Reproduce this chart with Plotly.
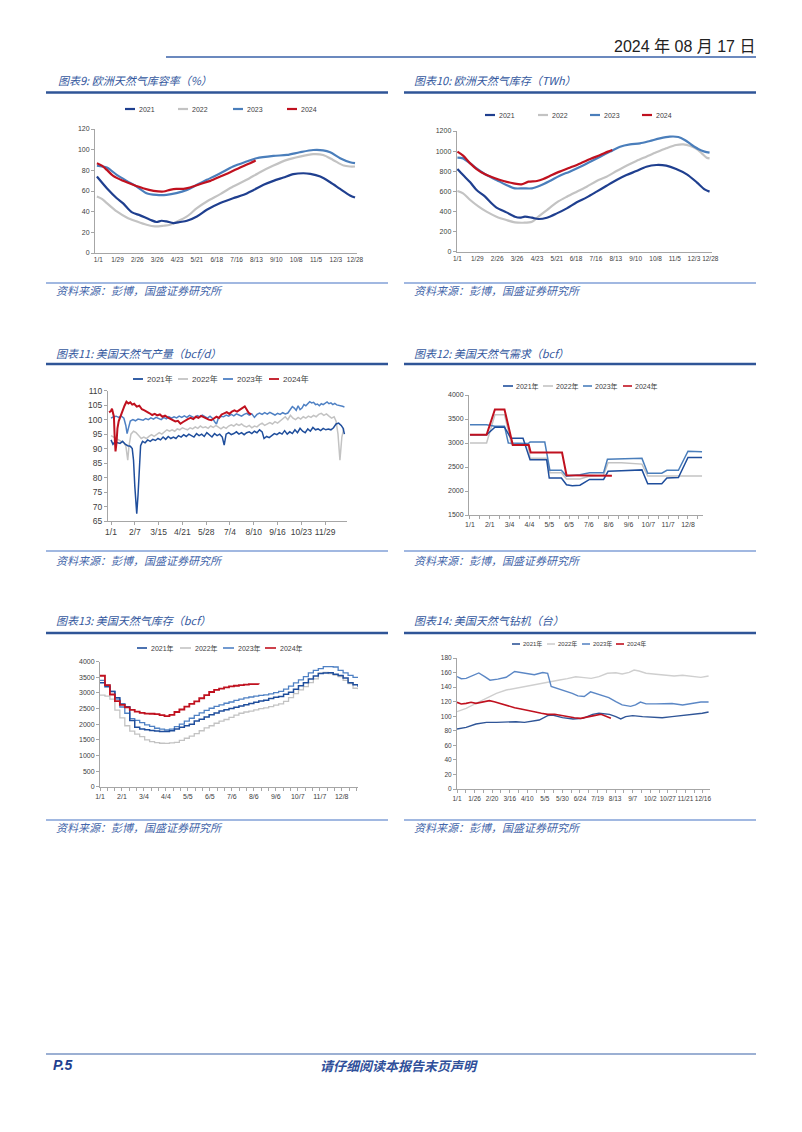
import plotly.graph_objects as go

W, H = 802, 1132

# ---------------- DATA ----------------
# Chart 9: EU gas storage fill (%), x = day of year
eu_pct_21_d = [-2, 12, 26, 35, 47, 59, 73, 82, 89, 96, 106, 115, 125, 139, 153, 172, 190, 205, 219, 233, 247, 261, 275, 289, 299, 313, 327, 341, 355, 362]
eu_pct_21_v = [74, 62.7, 53, 48, 39.6, 36.4, 32.2, 30, 31.2, 30.6, 29, 30, 31.2, 35.4, 41.8, 48.3, 53, 56.3, 61, 66, 69.8, 73, 76.3, 77.2, 76.6, 74, 68.5, 62, 55.7, 53.7]
eu_pct_22_d = [-2, 5, 12, 26, 40, 54, 68, 80, 92, 101, 110, 125, 139, 153, 172, 190, 209, 228, 247, 266, 284, 303, 317, 331, 346, 355, 362]
eu_pct_22_v = [54.7, 52.4, 48.3, 40.2, 34.4, 30.6, 27.3, 25.7, 26.4, 27.3, 30, 35.4, 43.4, 49.9, 57, 64.4, 70.8, 78.2, 84.6, 90.1, 93.3, 95.6, 94.9, 90.1, 84.6, 83.7, 83.7]
eu_pct_23_d = [-2, 12, 26, 40, 54, 68, 82, 96, 110, 125, 139, 153, 172, 190, 209, 223, 247, 266, 284, 303, 317, 327, 341, 355, 362]
eu_pct_23_v = [84.6, 82.7, 75.6, 69.8, 64.4, 57.9, 56.3, 56.3, 57.9, 61.1, 66, 70.8, 77.2, 83.7, 88.5, 91.7, 94, 94.9, 97.5, 99.7, 99.4, 97.5, 91.7, 87.8, 86.9]
eu_pct_24_d = [-2, 5, 12, 21, 35, 49, 63, 78, 92, 101, 110, 120, 129, 143, 158, 172, 186, 200, 214, 222]
eu_pct_24_v = [86.9, 84.6, 80.4, 74.6, 69.8, 66, 62.7, 60.2, 59.5, 61.1, 62.1, 62.1, 63.4, 66.6, 69.8, 74, 78.2, 82.7, 86.9, 89.4]

# Chart 10: EU gas storage (TWh)
eu_twh_21_d = [0, 8, 18, 27, 39, 48, 55, 69, 81, 88, 95, 105, 114, 126, 140, 154, 168, 182, 196, 210, 224, 238, 252, 266, 280, 294, 308, 323, 337, 348, 355]
eu_twh_21_v = [822, 762, 690, 613, 547, 481, 438, 391, 348, 338, 348, 338, 325, 338, 381, 431, 491, 540, 597, 656, 713, 762, 802, 845, 862, 855, 822, 769, 690, 620, 597]
eu_twh_22_d = [0, 8, 18, 30, 41, 55, 69, 81, 93, 105, 114, 126, 140, 154, 168, 182, 196, 210, 224, 238, 252, 266, 280, 294, 308, 318, 327, 337, 344, 351, 355]
eu_twh_22_v = [603, 580, 514, 448, 398, 348, 315, 292, 288, 298, 348, 414, 491, 547, 597, 646, 703, 746, 802, 855, 902, 945, 988, 1028, 1061, 1067, 1054, 1021, 978, 935, 928]
eu_twh_23_d = [0, 8, 18, 27, 41, 55, 69, 81, 93, 105, 116, 130, 144, 158, 173, 187, 201, 215, 229, 243, 257, 271, 285, 299, 311, 320, 330, 339, 348, 355]
eu_twh_23_v = [935, 928, 878, 829, 762, 713, 663, 630, 630, 630, 656, 703, 756, 796, 845, 895, 945, 995, 1044, 1067, 1077, 1101, 1127, 1144, 1140, 1111, 1061, 1021, 995, 985]
eu_twh_24_d = [0, 8, 18, 27, 39, 51, 65, 79, 90, 100, 112, 121, 133, 144, 158, 173, 187, 201, 212, 218]
eu_twh_24_v = [995, 955, 878, 822, 769, 736, 703, 680, 670, 696, 703, 723, 762, 796, 835, 878, 922, 961, 995, 1011]

# Chart 11: US dry gas production (bcf/d)
prod_21_d = [0, 3, 6, 10, 14, 18, 22, 26, 30, 33, 35, 37, 39, 40, 42, 44, 46, 49, 53, 57, 61, 65, 69, 73, 77, 81, 85, 89, 93, 97, 101, 105, 109, 113, 117, 121, 125, 129, 133, 137, 141, 145, 149, 153, 157, 161, 165, 169, 173, 176, 179, 183, 187, 191, 195, 199, 203, 207, 211, 215, 219, 223, 227, 231, 235, 238, 242, 246, 250, 254, 258, 262, 266, 270, 274, 278, 282, 286, 290, 294, 298, 302, 306, 310, 314, 318, 322, 326, 330, 334, 338, 342, 346, 350, 354, 358, 361, 363]
prod_21_v = [93, 91.5, 92.3, 92, 91.8, 92.5, 91.5, 91, 90.8, 90, 86, 77, 69, 67.5, 74, 85, 91, 92.5, 92, 93, 92.5, 93.2, 92.8, 93.5, 93, 94, 93.2, 94.2, 93.5, 94, 93.5, 94.5, 94, 94.8, 94.2, 95, 94.5, 94, 95.2, 94.5, 95, 94.2, 95.5, 94.8, 94, 95.2, 94.5, 95, 94, 91.2, 95, 95.5, 94.8, 95.2, 95.8, 95, 95.5, 94.8, 95.5, 95.8, 95.2, 96, 95.5, 96.5, 95.8, 93.5, 94.2, 93.8, 94.5, 95.2, 94.8, 95.5, 95, 96.2, 95, 95.8, 95.2, 96.5, 95.5, 97, 96, 95.5, 96.8, 96, 97.3, 96.5, 96.8, 96.2, 97, 96.5, 96.8, 96.5, 97.2, 98.5, 98.8, 98, 97, 95]
prod_22_d = [0, 4, 8, 12, 16, 20, 23, 25, 26, 28, 31, 35, 39, 43, 47, 51, 55, 59, 63, 67, 71, 75, 79, 83, 87, 91, 95, 99, 103, 107, 111, 115, 119, 123, 127, 131, 135, 139, 143, 147, 151, 155, 159, 163, 167, 171, 175, 179, 183, 187, 191, 195, 199, 203, 207, 211, 215, 219, 223, 227, 231, 235, 239, 243, 247, 251, 255, 259, 263, 267, 271, 275, 279, 283, 287, 291, 295, 299, 303, 307, 311, 315, 319, 323, 327, 331, 335, 339, 343, 347, 350, 353, 356, 359, 362]
prod_22_v = [94.5, 94, 93.5, 93, 92.5, 92, 91, 88, 86, 91, 95, 96, 95.5, 94.5, 93.5, 94, 93.5, 94.2, 94.8, 94.2, 95, 95.5, 95, 95.8, 96.5, 96, 96.5, 96, 96.8, 96.5, 97.2, 96.8, 96.5, 97.2, 96.8, 97.5, 97, 97.8, 97.2, 97.5, 97, 97.8, 97.3, 98, 97.5, 96.8, 97.5, 97, 97.8, 98.2, 97.8, 98.5, 98, 98.5, 97.8, 97.5, 98, 97.2, 97.8, 97.5, 98.3, 98.8, 98, 98.5, 99, 98.5, 99.3, 98.8, 99.5, 100.2, 101, 100, 101.5, 100.5, 100, 100.8, 100.2, 101, 100.5, 101.2, 100.8, 101.5, 101, 101.8, 102.2, 101.5, 102, 101.2, 100.5, 101, 99.5, 95, 86, 94, 97]
prod_23_d = [0, 4, 8, 12, 16, 20, 23, 25, 27, 30, 34, 38, 42, 46, 50, 54, 58, 62, 66, 70, 74, 78, 82, 86, 90, 94, 98, 102, 106, 110, 114, 118, 122, 126, 130, 134, 138, 142, 146, 150, 154, 158, 162, 164, 167, 171, 175, 179, 183, 187, 191, 195, 199, 203, 207, 211, 215, 219, 223, 227, 231, 235, 239, 243, 247, 251, 255, 259, 263, 267, 271, 275, 279, 282, 285, 288, 291, 294, 297, 300, 303, 306, 309, 312, 315, 318, 321, 324, 327, 330, 333, 336, 339, 342, 345, 348, 351, 354, 357, 360, 363]
prod_23_v = [100.5, 101, 101.2, 100.8, 101.2, 100.5, 98, 95.2, 97, 99.5, 100, 99.6, 100.2, 100, 99.8, 100.4, 100, 100.6, 100.2, 100.8, 100.4, 100, 100.8, 100.3, 101, 100.5, 101, 100.6, 101.2, 100.8, 101.3, 100.8, 101.5, 101, 100.6, 101.4, 101, 101.6, 101, 100.5, 101.2, 100.4, 99, 98.5, 100.6, 101.2, 101, 101.6, 101.2, 101.8, 101.3, 102, 101.6, 101.2, 101.8, 102.2, 101.6, 102, 100.8, 101.8, 102.3, 101.8, 102.4, 101.9, 102.5, 102, 101.6, 102.2, 101.8, 102.4, 102, 102.3, 103.8, 104.5, 104, 103.2, 104.8, 103.5, 104, 105.2, 104.8, 105.5, 106.2, 105.8, 106, 105.2, 105.4, 104.8, 105.5, 105.2, 105.8, 106.1, 105.5, 105.8, 105.2, 105.6, 105.1, 105, 104.8, 104.6, 104.4]
prod_24_d = [-3, 0, 1.5, 3, 4.5, 5.5, 7, 8.5, 10, 12, 15, 18, 21, 24, 27, 30, 33, 36, 40, 44, 48, 52, 56, 60, 64, 68, 72, 76, 80, 84, 88, 92, 96, 100, 104, 108, 112, 116, 120, 124, 128, 132, 136, 140, 144, 148, 152, 156, 160, 164, 168, 172, 176, 180, 184, 188, 192, 196, 200, 204, 208, 211, 214, 218]
prod_24_v = [102.5, 103, 103.8, 102.8, 101, 95, 89, 92, 97, 99.5, 101.5, 103.5, 104.8, 106.2, 105.6, 106, 105.2, 105.5, 104.5, 104.8, 103.6, 103.2, 102.8, 102.2, 101.6, 102, 101.5, 101.8, 101, 101.4, 100.8, 100.3, 99.8, 99.4, 99.6, 98.6, 99.2, 99.8, 100.3, 100.6, 100.2, 101, 100.6, 101.3, 100.8, 100.4, 100, 99.8, 100.5, 101, 100.6, 101.8, 102.2, 102.6, 102, 102.8, 103.2, 102.8, 103.4, 104, 104.6, 103.5, 102.4, 101.8]

# Chart 12: US gas demand (bcf)
dem_21_d = [0, 26, 39, 54, 64, 83, 94, 120, 124, 143, 151, 160, 172, 187, 209, 216, 237, 269, 278, 300, 308, 326, 341, 363]
dem_21_v = [3170, 3170, 3330, 3330, 3100, 3100, 2650, 2650, 2270, 2270, 2130, 2110, 2120, 2240, 2240, 2410, 2420, 2440, 2150, 2150, 2270, 2280, 2700, 2700]
dem_22_d = [0, 26, 39, 54, 65, 91, 94, 120, 125, 143, 151, 172, 185, 209, 216, 237, 269, 278, 363]
dem_22_v = [3000, 3000, 3590, 3590, 2970, 2960, 2680, 2680, 2380, 2380, 2250, 2250, 2300, 2330, 2590, 2590, 2560, 2310, 2310]
dem_23_d = [0, 26, 39, 54, 60, 91, 94, 117, 125, 143, 151, 172, 187, 209, 215, 269, 278, 300, 308, 326, 341, 363]
dem_23_v = [3380, 3380, 3350, 3350, 3000, 2990, 3020, 3020, 2430, 2430, 2310, 2340, 2380, 2380, 2660, 2680, 2370, 2370, 2430, 2430, 2830, 2820]
dem_24_d = [0, 26, 39, 54, 67, 92, 95, 144, 151, 222]
dem_24_v = [3170, 3170, 3700, 3700, 2960, 2960, 2800, 2800, 2330, 2320]

# Chart 13: US gas storage (bcf), weekly
stor_21 = [3330, 3200, 3050, 2850, 2650, 2560, 2120, 1900, 1850, 1820, 1800, 1780, 1770, 1770, 1790, 1850, 1900, 1950, 2000, 2100, 2160, 2230, 2300, 2360, 2420, 2460, 2500, 2540, 2580, 2620, 2660, 2700, 2740, 2770, 2820, 2860, 2890, 2960, 3020, 3120, 3230, 3330, 3450, 3540, 3620, 3640, 3650, 3600, 3560, 3480, 3330, 3260, 3200]
stor_22 = [2930, 2900, 2800, 2450, 2200, 1950, 1780, 1680, 1600, 1500, 1440, 1410, 1390, 1385, 1400, 1420, 1480, 1550, 1620, 1700, 1790, 1880, 1950, 2030, 2100, 2150, 2220, 2290, 2350, 2390, 2420, 2460, 2500, 2520, 2560, 2610, 2650, 2730, 2850, 2980, 3100, 3200, 3330, 3450, 3630, 3660, 3620, 3570, 3520, 3400, 3300, 3150, 3120]
stor_23 = [3400, 3250, 3050, 2800, 2550, 2350, 2180, 2120, 2050, 1980, 1930, 1870, 1840, 1815, 1840, 1920, 2000, 2100, 2190, 2280, 2360, 2440, 2510, 2570, 2620, 2670, 2710, 2760, 2800, 2840, 2870, 2900, 2920, 2940, 2970, 3010, 3050, 3120, 3220, 3320, 3420, 3520, 3640, 3720, 3780, 3840, 3840, 3830, 3720, 3640, 3560, 3500, 3480]
stor_24 = [3550, 3250, 2950, 2740, 2620, 2540, 2460, 2400, 2360, 2340, 2335, 2320, 2290, 2260, 2300, 2390, 2470, 2560, 2650, 2730, 2830, 2930, 3030, 3100, 3140, 3180, 3210, 3230, 3250, 3265, 3280, 3285, 3275]
stor_week_days = list(range(0, 365, 7))

# Chart 14: US gas rigs
rig_21_d = [0, 13, 27, 42, 56, 70, 84, 96, 108, 117, 129, 136, 150, 165, 179, 193, 202, 217, 226, 233, 240, 250, 264, 278, 292, 306, 321, 335, 349, 358]
rig_21_v = [82.4, 84.7, 89.3, 91.6, 91.6, 92.5, 92.5, 91.6, 93.9, 94.8, 100.8, 101.7, 98, 96.2, 97.1, 102.6, 104, 102.6, 99.4, 96.2, 99.4, 100.8, 99.4, 98.5, 98, 99.4, 100.8, 101.7, 104, 105.8]
rig_22_d = [0, 13, 27, 42, 56, 70, 82, 94, 105, 117, 129, 136, 146, 157, 169, 181, 191, 202, 214, 226, 235, 245, 252, 259, 269, 283, 297, 309, 321, 335, 347, 358]
rig_22_v = [106.2, 110.8, 117.7, 124.6, 131.4, 136, 138.3, 140.6, 142.9, 145.2, 147.5, 148.8, 149.8, 151.6, 154.3, 153, 152, 154.3, 159, 159.8, 158, 160.3, 163.5, 162.1, 159, 157.6, 156.6, 155.3, 156.2, 154.3, 153.4, 155.3]
rig_23_d = [0, 6, 13, 22, 31, 40, 47, 58, 70, 82, 96, 110, 122, 129, 134, 146, 155, 164, 172, 181, 190, 198, 207, 216, 226, 235, 247, 254, 261, 269, 283, 297, 306, 321, 335, 347, 358]
rig_23_v = [154.5, 151.5, 152, 156, 159.5, 154, 149.5, 151, 153.5, 161.5, 159.5, 157, 160, 159, 141, 137.5, 135, 131.5, 128, 127, 133.5, 131, 128, 125.5, 120, 115.5, 113.5, 115.5, 119.5, 117, 117, 117.5, 117.5, 115.5, 117.5, 119.5, 119.5]
rig_24_d = [0, 6, 13, 20, 27, 37, 46, 53, 63, 72, 82, 91, 101, 110, 120, 129, 139, 148, 157, 167, 176, 186, 195, 205, 212, 219]
rig_24_v = [119.1, 116.8, 117.7, 119.1, 117.7, 119.1, 121.4, 120, 116.8, 114.5, 111.7, 109.9, 108.5, 106.2, 104, 102.6, 102.6, 100.8, 99.4, 98, 97.1, 99.4, 100.8, 102.6, 100.3, 97.1]

# Tick labels
eu_ticks_txt = ["1/1", "1/29", "2/26", "3/26", "4/23", "5/21", "6/18", "7/16", "8/13", "9/10", "10/8", "11/5", "12/3", "12/28"]
eu9_ticks = [0, 27, 55, 83, 111, 139, 167, 195, 223, 251, 279, 307, 335, 362]
eu10_ticks = [0, 28, 56, 84, 112, 140, 167, 195, 223, 251, 279, 306, 333, 356]
prod_ticks = [0, 37, 74, 111, 148, 185, 222, 259, 296, 333]
prod_ticks_txt = ["1/1", "2/7", "3/15", "4/21", "5/28", "7/4", "8/10", "9/16", "10/23", "11/29"]
month_ticks = [0, 31, 62, 93, 124, 155, 186, 217, 248, 279, 310, 341]
month_ticks_txt = ["1/1", "2/1", "3/4", "4/4", "5/5", "6/5", "7/6", "8/6", "9/6", "10/7", "11/7", "12/8"]
rig_ticks = [0, 25, 50, 75, 100, 125, 150, 175, 200, 225, 250, 275, 300, 325, 350]
rig_ticks_txt = ["1/1", "1/26", "2/20", "3/16", "4/10", "5/5", "5/30", "6/24", "7/19", "8/13", "9/7", "10/2", "10/27", "11/21", "12/16"]

# ---------------- STYLE ----------------
C21 = "#1F3F8F"
C22 = "#C3C3C3"
C23 = "#4A7EBB"
C24 = "#C0111F"
AX = "#A6A6A6"
TXT = "#404040"
BLUE_T = "#34589E"
BLUE_S = "#4466AA"
LINE_D = "#2F5597"
NUM = "Liberation Sans, Arial, Noto Sans CJK SC, sans-serif"
CJK = "Noto Sans CJK SC, sans-serif"


def px(x):
    return x / W


def py(y):
    return 1 - y / H


fig = go.Figure()


def add_axes(n, x0, x1, ytop, ybot, xr, yr, xtv, xtt, ydt, fs, xticklen=0, minor_vals=None, xfs=None):
    key = "" if n == 1 else str(n)
    xa = dict(domain=[px(x0), px(x1)], range=xr, anchor="y" + key,
              tickmode="array", tickvals=xtv, ticktext=xtt,
              showline=True, linecolor=AX, linewidth=1, showgrid=False, zeroline=False,
              ticks="outside" if xticklen else "", ticklen=xticklen, tickcolor=AX,
              tickfont=dict(family=NUM, size=xfs or fs, color=TXT), tickangle=0, fixedrange=True,
              automargin=False)
    if minor_vals:
        xa["minor"] = dict(tickvals=minor_vals, ticks="outside", ticklen=xticklen, tickcolor=AX, showgrid=False)
    ya = dict(domain=[py(ybot), py(ytop)], range=yr, anchor="x" + key,
              tick0=yr[0], dtick=ydt, showline=True, linecolor=AX, linewidth=1,
              showgrid=False, zeroline=False, ticks="outside", ticklen=3, tickcolor=AX,
              tickfont=dict(family=NUM, size=fs, color=TXT), fixedrange=True, automargin=False)
    fig.update_layout(**{"xaxis" + key: xa, "yaxis" + key: ya})


def line(n, xs, ys, color, width, shape="linear", smoothing=None):
    key = "" if n == 1 else str(n)
    ld = dict(color=color, width=width, shape=shape)
    if smoothing is not None:
        ld["smoothing"] = smoothing
    fig.add_trace(go.Scatter(x=xs, y=ys, mode="lines", line=ld,
                             xaxis="x" + key, yaxis="y" + key,
                             showlegend=False, hoverinfo="skip"))


def text(x, y, s, size, color, family, xanchor="left", yanchor="middle"):
    fig.add_annotation(x=px(x), y=py(y), xref="paper", yref="paper", text=s,
                       showarrow=False, xanchor=xanchor, yanchor=yanchor,
                       font=dict(size=size, color=color, family=family), borderpad=0)


def hline(x0, x1, y, color, width):
    fig.add_shape(type="line", xref="paper", yref="paper", x0=px(x0), x1=px(x1),
                  y0=py(y), y1=py(y), line=dict(color=color, width=width))


def legend(items, y, size, lw):
    for (lx0, lx1, tx, label, color) in items:
        hline(lx0, lx1, y, color, lw)
        text(tx, y, label, size, TXT, NUM)


# ---------------- AXES ----------------
add_axes(1, 95, 357, 129, 253, [-4.7, 364.8], [0, 120], eu9_ticks, eu_ticks_txt, 20, 7, xfs=6.5)
add_axes(2, 456.7, 711.7, 131, 251.7, [-1, 358], [0, 1200], eu10_ticks, eu_ticks_txt, 200, 7, xfs=6.5)
add_axes(3, 108, 347, 390.7, 521, [-4.7, 367], [65, 110], prod_ticks, prod_ticks_txt, 5, 8.5, xticklen=3)
add_axes(4, 469, 702.7, 395, 515, [-1.5, 364], [1500, 4000], month_ticks, month_ticks_txt, 500, 7,
         xticklen=3, minor_vals=[15.5 + 31 * i for i in range(12)])
add_axes(5, 100, 358, 661.7, 786.7, [0, 364], [0, 4000], month_ticks, month_ticks_txt, 500, 7,
         xticklen=3, minor_vals=[10.3 + 31 * i for i in range(12)] + [20.7 + 31 * i for i in range(12)])
add_axes(6, 457, 710, 658, 789, [0, 360], [0, 180], rig_ticks, rig_ticks_txt, 20, 6.5,
         xticklen=3, minor_vals=[12.5 + 25 * i for i in range(14)])

# ---------------- TRACES ----------------
line(1, eu_pct_22_d, eu_pct_22_v, C22, 2.2, "spline", 0.8)
line(1, eu_pct_21_d, eu_pct_21_v, C21, 2.2, "spline", 0.8)
line(1, eu_pct_23_d, eu_pct_23_v, C23, 2.2, "spline", 0.8)
line(1, eu_pct_24_d, eu_pct_24_v, C24, 2.2, "spline", 0.8)

line(2, eu_twh_22_d, eu_twh_22_v, C22, 2.2, "spline", 0.8)
line(2, eu_twh_21_d, eu_twh_21_v, C21, 2.2, "spline", 0.8)
line(2, eu_twh_23_d, eu_twh_23_v, C23, 2.2, "spline", 0.8)
line(2, eu_twh_24_d, eu_twh_24_v, C24, 2.2, "spline", 0.8)

line(3, prod_22_d, prod_22_v, C22, 1.5)
line(3, prod_21_d, prod_21_v, "#1F4E9C", 1.5)
line(3, prod_23_d, prod_23_v, "#4F81C4", 1.5)
line(3, prod_24_d, prod_24_v, C24, 2)

line(4, dem_22_d, dem_22_v, C22, 1.5)
line(4, dem_23_d, dem_23_v, C23, 1.5)
line(4, dem_21_d, dem_21_v, "#1F4E9C", 1.5)
line(4, dem_24_d, dem_24_v, C24, 2)

line(5, stor_week_days, stor_22, C22, 1.3, "hv")
line(5, stor_week_days, stor_23, "#4F81C4", 1.3, "hv")
line(5, stor_week_days, stor_21, "#1F4E9C", 1.5, "hv")
line(5, stor_week_days[:len(stor_24)], stor_24, C24, 1.8, "hv")

line(6, rig_22_d, rig_22_v, "#CFCFCF", 1.4)
line(6, rig_23_d, rig_23_v, "#5B87C5", 1.4)
line(6, rig_21_d, rig_21_v, "#2F5597", 1.4)
line(6, rig_24_d, rig_24_v, C24, 1.6)

# ---------------- LEGENDS ----------------
legend([(125, 135, 138, "2021", C21), (178, 188, 191, "2022", C22),
        (233, 243, 246, "2023", C23), (287, 297, 300, "2024", C24)], 109, 7, 2.2)
legend([(485, 495, 498, "2021", C21), (538, 548, 551, "2022", C22),
        (590, 600, 603, "2023", C23), (642, 652, 655, "2024", C24)], 115, 7, 2.2)
legend([(133, 143, 146, "2021年", "#1F4E9C"), (178, 188, 191, "2022年", C22),
        (223, 233, 236, "2023年", "#4F81C4"), (269, 279, 282, "2024年", C24)], 379, 8, 1.8)
legend([(503, 513, 515, "2021年", "#1F4E9C"), (543, 553, 555, "2022年", C22),
        (583, 592, 594, "2023年", C23), (623, 632, 634, "2024年", C24)], 386, 7, 1.6)
legend([(137, 147, 150, "2021年", "#1F4E9C"), (180, 191, 194, "2022年", C22),
        (223, 234, 237, "2023年", "#4F81C4"), (265, 276, 279, "2024年", C24)], 648, 7, 1.6)
legend([(512, 520, 522, "2021年", "#2F5597"), (547, 555, 557, "2022年", "#CFCFCF"),
        (582, 590, 592, "2023年", "#5B87C5"), (616, 624, 626, "2024年", C24)], 644, 6, 1.6)

# ---------------- PAGE TEXT & RULES ----------------
text(756, 47, "2024 年 08 月 17 日", 16, "#222222",
     "Liberation Sans Narrow, Arial Narrow, Liberation Sans, Noto Sans CJK SC", xanchor="right")
hline(166, 756, 57, "#3A62A8", 1.5)

titles = [(57, 80, "图表9: 欧洲天然气库容率（%）"), (413, 80, "图表10: 欧洲天然气库存（TWh）"),
          (55, 353, "图表11: 美国天然气产量（bcf/d）"), (413, 353, "图表12: 美国天然气需求（bcf）"),
          (55, 620, "图表13: 美国天然气库存（bcf）"), (413, 620, "图表14: 美国天然气钻机（台）")]
for (tx, ty, s) in titles:
    text(tx, ty, "<i>" + s + "</i>", 11, BLUE_T, CJK)

for (uy, sy, st) in [(92.5, 283, 290), (364, 551, 560), (633, 820, 827)]:
    hline(46, 388, uy, LINE_D, 2.5)
    hline(404, 756, uy, LINE_D, 2.5)
    hline(46, 388, sy, "#4472C4", 1.2)
    hline(404, 756, sy, "#4472C4", 1.2)
    text(55, st, "<i>资料来源：彭博，国盛证券研究所</i>", 11, BLUE_S, CJK)
    text(413, st, "<i>资料来源：彭博，国盛证券研究所</i>", 11, BLUE_S, CJK)

hline(46, 756, 1054, "#3A62A8", 1.2)
text(52, 1065, "<b><i>P.5</i></b>", 14, "#1F3F8F", NUM)
text(399, 1065, "<b><i>请仔细阅读本报告末页声明</i></b>", 13, "#2F4F9A", CJK, xanchor="center")

fig.update_layout(width=W, height=H, margin=dict(l=0, r=0, t=0, b=0),
                  paper_bgcolor="white", plot_bgcolor="white", showlegend=False)

fig.write_html("out.html")
